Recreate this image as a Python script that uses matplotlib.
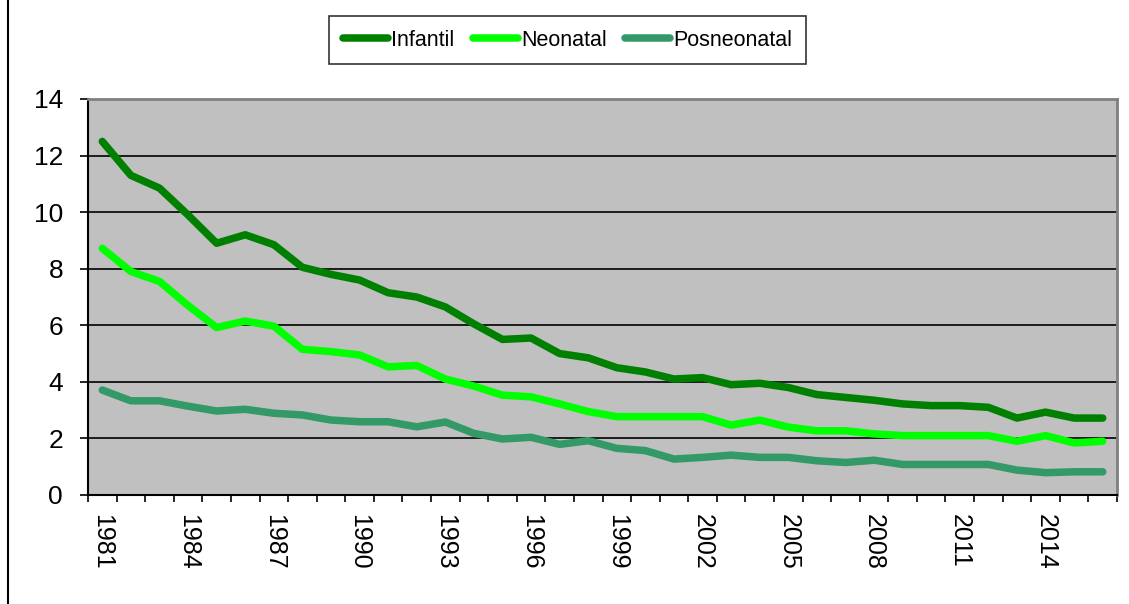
import matplotlib.pyplot as plt
import numpy as np
from matplotlib.lines import Line2D

anios = list(range(1981, 2017))
infantil = [12.5, 11.3, 10.85, 9.9, 8.9, 9.2, 8.85, 8.05, 7.8, 7.6, 7.15, 7.0,
            6.65, 6.05, 5.5, 5.55, 5.0, 4.85, 4.5, 4.35, 4.1, 4.15, 3.9, 3.95,
            3.8, 3.55, 3.45, 3.35, 3.22, 3.16, 3.16, 3.1, 2.72, 2.93, 2.72, 2.72]
neonatal = [8.72, 7.9, 7.55, 6.7, 5.92, 6.15, 5.97, 5.15, 5.07, 4.95, 4.53, 4.58,
            4.1, 3.85, 3.53, 3.47, 3.22, 2.95, 2.77, 2.77, 2.77, 2.77, 2.47, 2.65,
            2.4, 2.27, 2.27, 2.16, 2.1, 2.1, 2.1, 2.1, 1.9, 2.1, 1.84, 1.9]
posneonatal = [3.71, 3.33, 3.33, 3.14, 2.97, 3.03, 2.89, 2.83, 2.65, 2.59, 2.59, 2.41,
               2.58, 2.18, 1.98, 2.04, 1.79, 1.92, 1.65, 1.57, 1.27, 1.33, 1.41, 1.33,
               1.33, 1.21, 1.15, 1.23, 1.08, 1.08, 1.08, 1.08, 0.88, 0.79, 0.82, 0.82]

plt.rcParams['font.family'] = ['Liberation Sans', 'DejaVu Sans']

fig = plt.figure(figsize=(11.29, 6.04), dpi=100)
ax = fig.add_axes([88 / 1129, 109 / 604, 1029 / 1129, 396 / 604])

x = np.arange(len(anios))
ax.plot(x, infantil, color='#008000', lw=5.4, solid_capstyle='round', label='Infantil', zorder=3)
ax.plot(x, neonatal, color='#00FF00', lw=5.4, solid_capstyle='round', label='Neonatal', zorder=3)
ax.plot(x, posneonatal, color='#339966', lw=5.4, solid_capstyle='round', label='Posneonatal', zorder=3)

ax.set_facecolor('#C0C0C0')
ax.set_xlim(-0.5, len(anios) - 0.5)
ax.set_ylim(0, 14)
ax.set_yticks(range(0, 15, 2))
ax.yaxis.grid(True, color='black', lw=1.2)
ax.set_axisbelow(True)

ax.set_xticks(x[::3])
ax.set_xticklabels([str(a) for a in anios[::3]], rotation=-90, fontsize=18)
ax.set_xticks(np.arange(-0.5, len(anios), 1), minor=True)
ax.tick_params(axis='x', which='major', length=0, pad=14)
ax.tick_params(axis='x', which='minor', length=5, width=1.2, color='black')
ax.tick_params(axis='y', length=6, width=1.2, pad=12, labelsize=19)

for s in ['top', 'right']:
    ax.spines[s].set_color('#808080')
    ax.spines[s].set_linewidth(2)
for s in ['left', 'bottom']:
    ax.spines[s].set_color('black')
    ax.spines[s].set_linewidth(1.5)

leg = fig.legend(loc='center', bbox_to_anchor=(567.5 / 1129, 1 - 40 / 604), ncol=3,
                 fontsize=15.5, frameon=True, fancybox=False, edgecolor='black',
                 handlelength=2.1, handletextpad=0.15, columnspacing=0.85,
                 borderpad=0.65)
leg.get_frame().set_linewidth(1.2)
for h in leg.get_lines():
    h.set_solid_capstyle('round')

fig.add_artist(Line2D([7.5 / 1129, 7.5 / 1129], [0, 1], color='black', lw=1.5,
                      transform=fig.transFigure))

fig.savefig('out.png', dpi=100)
